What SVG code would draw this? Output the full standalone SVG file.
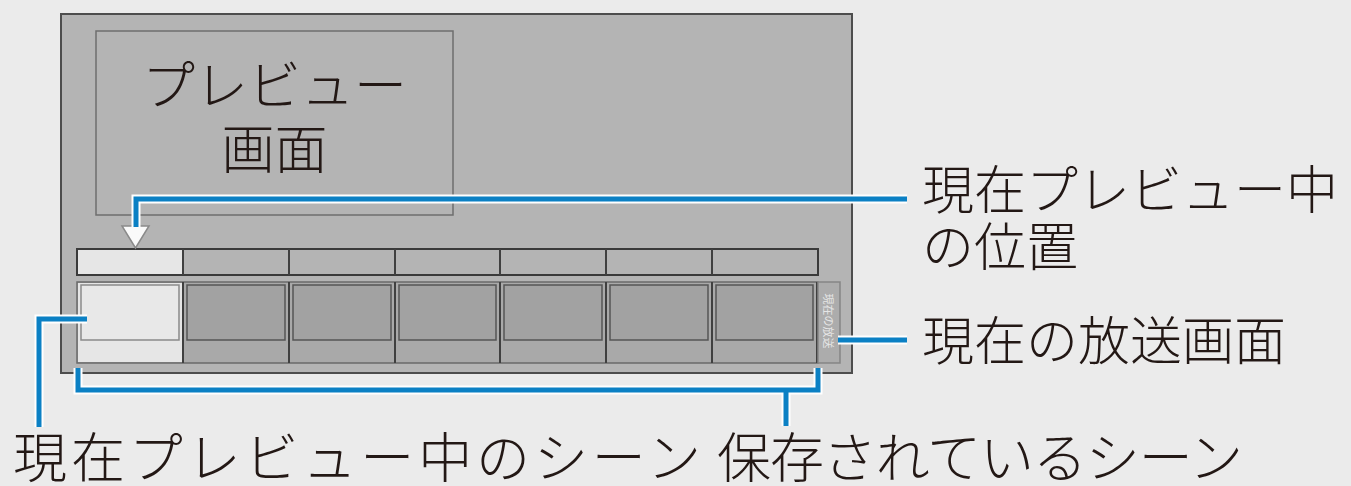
<svg xmlns="http://www.w3.org/2000/svg" width="1351" height="486" viewBox="0 0 1351 486">
<style>
.lbl{font-family:"Noto Sans CJK JP","Noto Sans",sans-serif;font-weight:300;fill:#231815}
.cellTop{fill:#b4b4b4;stroke:#3a3a3a;stroke-width:2}
.thumb{fill:#a2a2a2;stroke:#555;stroke-width:1.5}
.div{stroke:#404040;stroke-width:2}
.halo{fill:none;stroke:#fff;stroke-width:9;stroke-linecap:butt;stroke-linejoin:miter}
.con{fill:none;stroke:#0b80c4;stroke-width:5;stroke-linecap:butt;stroke-linejoin:miter}
</style>
<rect x="0" y="0" width="1351" height="486" fill="#ebebeb"/>
<g id="panel">
  <rect x="61" y="14" width="791" height="359" fill="#b4b4b4" stroke="#4d4d4d" stroke-width="2"/>
</g>
<g id="preview-screen">
  <rect x="96" y="31" width="357" height="184" fill="#b4b4b4" stroke="#6e6e6e" stroke-width="1.5"/>
  <text class="lbl" x="274.5" y="105" font-size="53" text-anchor="middle">プレビュー</text>
  <text class="lbl" x="274.5" y="169" font-size="53" text-anchor="middle">画面</text>
</g>
<g id="position-strip">
  <rect class="cellTop" x="77" y="249" width="741" height="26"/>
  <rect x="78" y="250" width="105" height="24" fill="#e6e6e6"/>
  <line class="div" x1="183" y1="249" x2="183" y2="275"/>
  <line class="div" x1="289" y1="249" x2="289" y2="275"/>
  <line class="div" x1="395" y1="249" x2="395" y2="275"/>
  <line class="div" x1="500" y1="249" x2="500" y2="275"/>
  <line class="div" x1="606" y1="249" x2="606" y2="275"/>
  <line class="div" x1="712" y1="249" x2="712" y2="275"/>
</g>
<g id="scene-strip">
  <rect x="77" y="282" width="741" height="81" fill="#a9a9a9" stroke="#6a6a6a" stroke-width="1.5"/>
  <rect x="78" y="283" width="105" height="79" fill="#e6e6e6"/>
  <rect x="81" y="285" width="98" height="55" fill="#e8e8e8" stroke="#8a8a8a" stroke-width="1.5"/>
  <rect class="thumb" x="187" y="285" width="98" height="55"/>
  <rect class="thumb" x="293" y="285" width="98" height="55"/>
  <rect class="thumb" x="399" y="285" width="97" height="55"/>
  <rect class="thumb" x="504" y="285" width="98" height="55"/>
  <rect class="thumb" x="610" y="285" width="98" height="55"/>
  <rect class="thumb" x="716" y="285" width="97" height="55"/>
  <line class="div" x1="183" y1="282" x2="183" y2="363"/>
  <line class="div" x1="289" y1="282" x2="289" y2="363"/>
  <line class="div" x1="395" y1="282" x2="395" y2="363"/>
  <line class="div" x1="500" y1="282" x2="500" y2="363"/>
  <line class="div" x1="606" y1="282" x2="606" y2="363"/>
  <line class="div" x1="712" y1="282" x2="712" y2="363"/>
  <line class="div" x1="817" y1="282" x2="817" y2="363"/>
</g>
<g id="broadcast-cell">
  <rect x="818" y="282" width="22" height="81" fill="#acacac" stroke="#858585" stroke-width="1.5"/>
  <text x="829" y="321" font-size="11" fill="#e6e6e6" font-family="Noto Sans CJK JP, sans-serif" text-anchor="middle" dominant-baseline="central" transform="rotate(90 829 321)">現在の放送</text>
</g>
<g id="marker">
  <polygon points="122,226 149,226 135.5,248" fill="#fafafa" stroke="#8a8a8a" stroke-width="1.5"/>
</g>
<g id="connectors">
  <path class="halo" d="M136,227 V199 H907"/>
  <path class="halo" d="M838,340 H907"/>
  <path class="halo" d="M87,319 H39 V427"/>
  <path class="halo" d="M78,368 V390 H818 V368 M786,390 V426"/>
  <path class="con" d="M136,227 V199 H907"/>
  <path class="con" d="M838,340 H907"/>
  <path class="con" d="M87,319 H39 V427"/>
  <path class="con" d="M78,368 V390 H818 V368 M786,390 V426"/>
</g>
<g id="label-position">
  <text class="lbl" x="922" y="209" font-size="52">現在プレビュー中</text>
  <text class="lbl" x="922" y="266" font-size="52">の位置</text>
</g>
<g id="label-broadcast">
  <text class="lbl" x="922" y="360" font-size="52">現在の放送画面</text>
</g>
<g id="label-preview-scene">
  <text class="lbl" x="13" y="478" font-size="54" textLength="688" lengthAdjust="spacing">現在プレビュー中のシーン</text>
</g>
<g id="label-saved">
  <text class="lbl" x="717" y="478" font-size="54" textLength="526" lengthAdjust="spacing">保存されているシーン</text>
</g>
</svg>
